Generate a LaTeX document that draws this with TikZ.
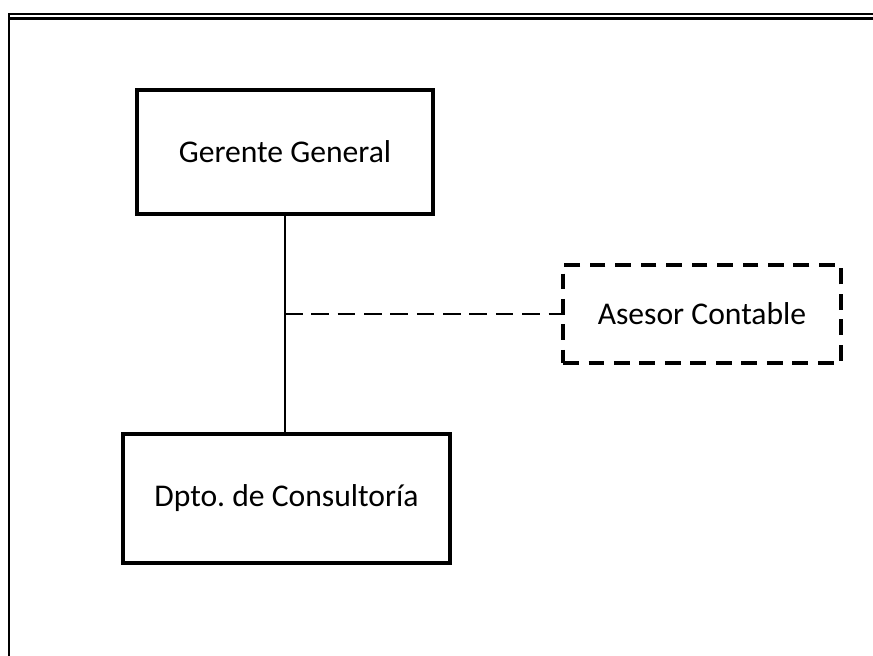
\documentclass[tikz,border=0pt]{standalone}
\usepackage{fontspec}
\setmainfont{Carlito}
\usetikzlibrary{positioning}

\tikzset{
  orgbox/.style={draw,line width=2.2pt,align=center,font=\fontsize{18}{21}\selectfont},
  advbox/.style={draw,line width=2pt,dash pattern=on 9pt off 5.5pt,align=center,font=\fontsize{18}{21}\selectfont},
  staffline/.style={line width=1.7pt,dash pattern=on 10pt off 5pt}
}

\begin{document}
\frenchspacing
\begin{tikzpicture}[x=0.02cm,y=-0.02cm]
 \useasboundingbox (0,0) rectangle (873,656);
 % marco
 \draw[line width=1.1pt] (9,656) -- (9,14) -- (873,14);
 \draw[line width=1.7pt] (9,18.5) -- (873,18.5);
 % cajas
 \node[orgbox,minimum width=5.92cm,minimum height=2.48cm] (gg) at (285,152) {Gerente General};
 \node[orgbox,minimum width=6.54cm,minimum height=2.58cm] (dc) at (286.5,498.5) {Dpto. de Consultoría};
 \node[advbox,minimum width=5.56cm,minimum height=1.96cm] (ac) at (702,314) {Asesor Contable};
 % conectores
 \draw[line width=1.1pt] (gg.south) -- (gg.south |- dc.north);
 \coordinate (j) at (gg.south |- ac.west);
 \draw[staffline] (j) -- (ac.west);
\end{tikzpicture}
\end{document}
